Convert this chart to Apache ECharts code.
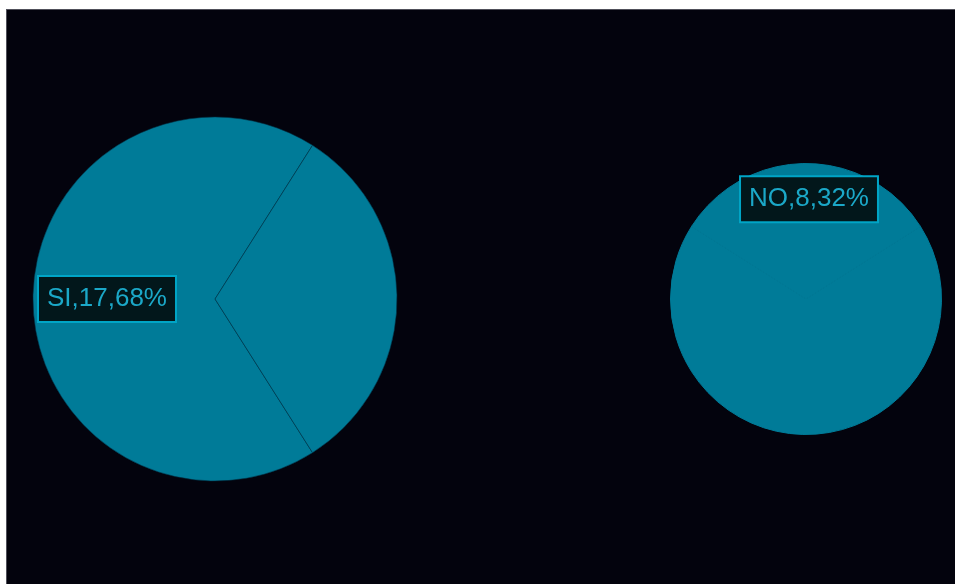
<!DOCTYPE html>
<html>
<head>
<meta charset="utf-8">
<script src="https://cdn.jsdelivr.net/npm/echarts@6/dist/echarts.min.js"></script>
<style>
  html, body { margin: 0; padding: 0; background: #ffffff; overflow: hidden; }
  #frame { position: absolute; left: 6px; top: 9px; width: 1000px; height: 620px;
           border: 1px solid #50505a; background: #03030d; }
  #chart { width: 1000px; height: 620px; }
</style>
</head>
<body>
<div id="frame"><div id="chart"></div></div>
<script>
var categories = ['SI', 'NO'];
var values = [17, 8];
var shownLabel = ['SI', 'NO']; // label shown on left pie, right pie

var pieColor = '#007b98';

function buildData(showName) {
  return categories.map(function (c, i) {
    return {
      name: c,
      value: values[i],
      label: { show: c === showName }
    };
  });
}

var labelStyle = {
  position: 'inside',
  formatter: '{b},{c},{d}%',
  fontFamily: 'Liberation Sans, Arial, sans-serif',
  fontSize: 26,
  lineHeight: 26,
  color: '#1ba8c8',
  backgroundColor: '#02171b',
  borderColor: '#00a5c6',
  borderWidth: 2,
  padding: [9, 8, 9, 8]
};

var chart = echarts.init(document.getElementById('chart'), null, { renderer: 'canvas' });
chart.setOption({
  backgroundColor: '#03030d',
  animation: false,
  series: [
    {
      type: 'pie',
      center: [208, 289],
      radius: [0, 182],
      startAngle: 302.4,
      clockwise: true,
      color: [pieColor, pieColor],
      itemStyle: { borderColor: 'rgba(0,50,70,0.55)', borderWidth: 1 },
      label: labelStyle,
      labelLine: { show: false },
      labelLayout: { dx: -14 },
      emphasis: { disabled: true },
      data: buildData(shownLabel[0])
    },
    {
      type: 'pie',
      center: [799, 289],
      radius: [0, 135.5],
      startAngle: 32.4,
      clockwise: true,
      color: [pieColor, pieColor],
      itemStyle: { borderColor: pieColor, borderWidth: 1 },
      label: labelStyle,
      labelLine: { show: false },
      labelLayout: { dx: 3, dy: -29 },
      emphasis: { disabled: true },
      data: buildData(shownLabel[1])
    }
  ]
});
</script>
</body>
</html>
